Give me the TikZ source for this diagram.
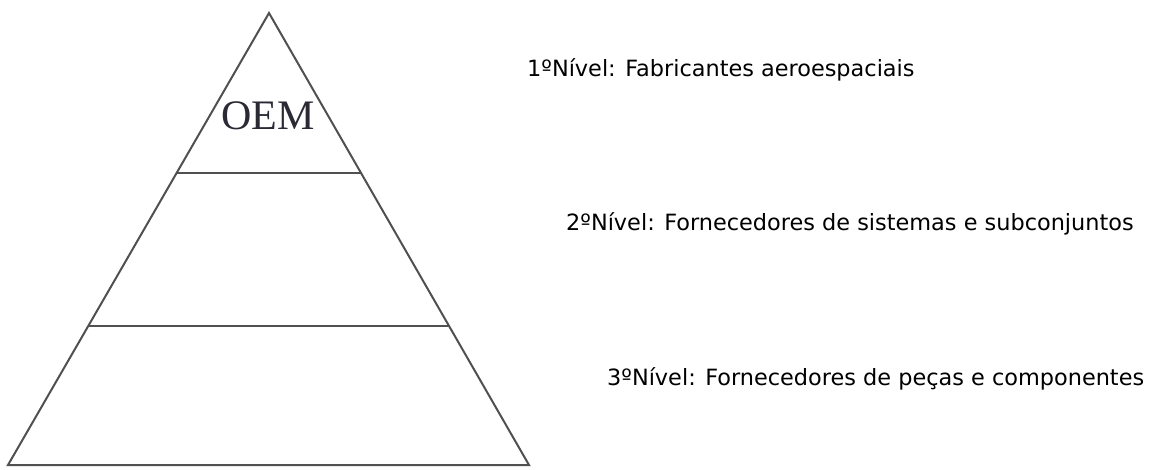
\documentclass[tikz,border=0pt]{standalone}
\usepackage{fontspec}
\setmainfont{DejaVu Sans}
\newfontfamily\oemfont{Liberation Serif}
\definecolor{edge}{HTML}{505050}
\definecolor{oemcol}{HTML}{2A2A35}
\begin{document}
\begin{tikzpicture}[x=1pt,y=-1pt,
  pyr/.style={draw=edge,line width=2pt,line join=miter},
  lvl/.style={anchor=base west,inner sep=0pt,font=\fontsize{22.4}{26}\selectfont,text=black}]
\useasboundingbox[fill=white] (0,0) rectangle (1151,469);
\coordinate (A) at (269,13);
\coordinate (L) at (8,465);
\coordinate (R) at (529,465);
\coordinate (l1) at (176.6,173);
\coordinate (r1) at (361.4,173);
\coordinate (l2) at (88.3,326);
\coordinate (r2) at (449.7,326);
\draw[pyr] (A) -- (L) -- (R) -- cycle;
\draw[pyr] (l1) -- (r1);
\draw[pyr] (l2) -- (r2);
\node[inner sep=0pt,font=\oemfont\fontsize{42}{44}\selectfont,text=oemcol] (oem) at (268,116) {OEM};
\node[lvl] (t1) at (527,76) {1ºNível: Fabricantes aeroespaciais};
\node[lvl] (t2) at (566,230) {2ºNível: Fornecedores de sistemas e subconjuntos};
\node[lvl] (t3) at (607,385) {3ºNível: Fornecedores de peças e componentes};
\end{tikzpicture}
\end{document}
